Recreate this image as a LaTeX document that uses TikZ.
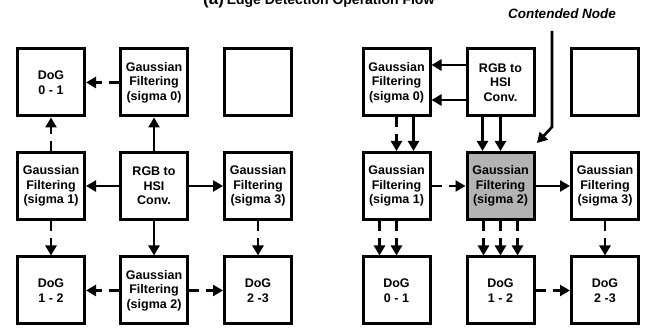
\documentclass[tikz,border=0pt]{standalone}
\usepackage{fontspec}
\setmainfont{Liberation Sans}
\usetikzlibrary{arrows.meta}
\definecolor{hotgray}{RGB}{179,179,179}
\begin{document}
\begin{tikzpicture}[x=1pt,y=-1pt,
  box/.style={draw,line width=3pt,minimum width=67pt,minimum height=67pt,
    inner sep=0pt,align=center,font=\bfseries\fontsize{12.5}{14.5}\selectfont},
  hot/.style={box,fill=hotgray},
  arr/.style={line width=2.6pt,-{Triangle[length=10pt,width=11pt]}},
  darr/.style={arr,dash pattern=on 10pt off 7pt}]
\useasboundingbox (0,0) rectangle (646,328);
\node[anchor=base west,inner sep=0pt,font=\bfseries] (title) at (203,4.5)
  {{\fontsize{17}{17}\selectfont (a)} {\fontsize{14}{14}\selectfont Edge Detection Operation Flow}};
% left grid
\node[box] (l11) at (51,82.5) {DoG\\0 - 1};
\node[box] (l12) at (154,82.5) {Gaussian\\Filtering\\(sigma 0)};
\node[box] (l13) at (258,82.5) {};
\node[box] (l21) at (51,186) {Gaussian\\Filtering\\(sigma 1)};
\node[box] (l22) at (154,186) {RGB to\\HSI\\Conv.};
\node[box] (l23) at (258,186) {Gaussian\\Filtering\\(sigma 3)};
\node[box] (l31) at (51,290.5) {DoG\\1 - 2};
\node[box] (l32) at (154,290.5) {Gaussian\\Filtering\\(sigma 2)};
\node[box] (l33) at (258,290.5) {DoG\\2 -3};
\draw[darr] (l12) -- (l11);
\draw[darr] (l21) -- (l11);
\draw[arr] (l22) -- (l12);
\draw[arr] (l22) -- (l21);
\draw[arr] (l22) -- (l23);
\draw[arr] (l22) -- (l32);
\draw[darr] (l21) -- (l31);
\draw[darr] (l23) -- (l33);
\draw[darr] (l32) -- (l31);
\draw[darr] (l32) -- (l33);
% right grid
\node[box] (r11) at (396.5,82.5) {Gaussian\\Filtering\\(sigma 0)};
\node[box] (r12) at (500.5,82.5) {RGB to\\HSI\\Conv.};
\node[box] (r13) at (605,82.5) {};
\node[box] (r21) at (396.5,186) {Gaussian\\Filtering\\(sigma 1)};
\node[hot] (r22) at (500.5,186) {Gaussian\\Filtering\\(sigma 2)};
\node[box] (r23) at (605,186) {Gaussian\\Filtering\\(sigma 3)};
\node[box] (r31) at (396.5,290.5) {DoG\\0 - 1};
\node[box] (r32) at (500.5,290.5) {DoG\\1 - 2};
\node[box] (r33) at (605,290.5) {DoG\\2 -3};
\draw[arr] ([yshift=17.5pt]r12.west) -- ([yshift=17.5pt]r11.east);
\draw[arr] ([yshift=-17.5pt]r12.west) -- ([yshift=-17.5pt]r11.east);
\draw[darr] (r11.south) -- (r21.north);
\draw[arr] ([xshift=17pt]r11.south) -- ([xshift=17pt]r21.north);
\draw[arr] ([xshift=-18pt]r12.south) -- ([xshift=-18pt]r22.north);
\draw[arr] (r12.south) -- (r22.north);
\draw[darr] (r21) -- (r22);
\draw[arr] (r22) -- (r23);
\draw[darr] ([xshift=-17pt]r21.south) -- ([xshift=-17pt]r31.north);
\draw[darr] (r21.south) -- (r31.north);
\draw[darr] ([xshift=-17pt]r22.south) -- ([xshift=-17pt]r32.north);
\draw[darr] (r22.south) -- (r32.north);
\draw[darr] ([xshift=17pt]r22.south) -- ([xshift=17pt]r32.north);
\draw[darr] (r23) -- (r33);
\draw[darr] (r32) -- (r33);
% contended node label
\node[inner sep=0pt,font=\bfseries\itshape\fontsize{13.5}{13.5}\selectfont] (cn) at (562,13.5) {Contended Node};
\coordinate (cna) at (552,31);
\coordinate (cnb) at (552,127);
\draw[arr] (cna) -- (cnb) -- ([xshift=1.5pt,yshift=8pt]r22.north east);
\end{tikzpicture}
\end{document}
